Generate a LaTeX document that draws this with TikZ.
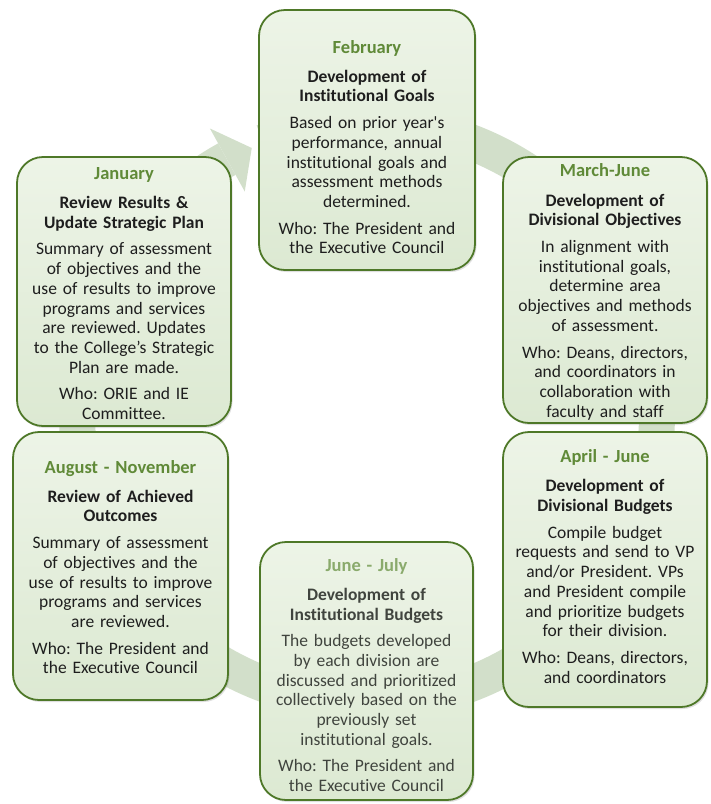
\documentclass[tikz,border=0pt]{standalone}
\usepackage{fontspec}
\setmainfont{Carlito}[Ligatures={TeX,NoCommon}]
\usetikzlibrary{shadows}
\definecolor{ringc}{RGB}{210,223,202}
\definecolor{boxtop}{RGB}{237,244,231}
\definecolor{boxbot}{RGB}{220,233,210}
\definecolor{boxline}{RGB}{78,120,40}
\definecolor{mgreen}{RGB}{96,138,56}
\definecolor{mgreenlt}{RGB}{138,170,108}
\definecolor{txt}{RGB}{30,30,30}
\definecolor{txtlt}{RGB}{64,68,62}
\newcommand{\mtitle}[1]{{\color{mgreen}\fontsize{18.5}{19.7}\selectfont\bfseries #1}\\[9.5pt]}
\newcommand{\mtitlelt}[1]{{\color{mgreenlt}\fontsize{18.5}{19.7}\selectfont\bfseries #1}\\[9.5pt]}
\tikzset{
  cyclebox/.style={draw=boxline, line width=1.8pt, rounded corners=26pt,
    top color=boxtop, bottom color=boxbot, inner sep=0pt,
    drop shadow={opacity=0.25, shadow xshift=1.5pt, shadow yshift=-2pt}},
  boxtext/.style={text width=230pt, align=center, text=txt, inner sep=0pt,
    font=\frenchspacing\fontsize{17.5}{19.7}\selectfont},
}
\begin{document}
\begin{tikzpicture}[x=1pt,y=1pt]
\useasboundingbox (0,0) rectangle (711,-804);
\coordinate (ctr) at (367,-413);
% cycle ring with arrowhead
\fill[ringc] ([shift={(ctr)}]118.9:308) arc[start angle=118.9, end angle=471, radius=308]
  -- ([shift={(ctr)}]471:272) arc[start angle=471, end angle=118.9, radius=272] -- cycle;
\fill[ringc] ([shift={(ctr)}]118.9:325) -- ([shift={(ctr)}]113.5:289) -- ([shift={(ctr)}]118.9:253) -- cycle;
% boxes
\node[cyclebox, minimum width=216pt, minimum height=260pt] (feb) at (367,-140) {};
\node[cyclebox, minimum width=214pt, minimum height=269pt] (jan) at (124,-291.5) {};
\node[cyclebox, minimum width=204pt, minimum height=266pt] (mar) at (605,-290) {};
\node[cyclebox, minimum width=204pt, minimum height=275pt] (apr) at (605,-569.5) {};
\node[cyclebox, minimum width=215pt, minimum height=268pt] (aug) at (120.5,-566) {};
\node[cyclebox, minimum width=213pt, minimum height=258pt] (jun) at (366.5,-671) {};
% texts
\node[boxtext] (febt) at ([yshift=-7pt]feb.center) {\mtitle{February}
{\bfseries Development of\\Institutional Goals}\\[7pt]
Based on prior year\textquotesingle s\\performance, annual\\institutional goals and\\assessment methods\\determined.\\[7pt]
Who: The President and\\the Executive Council};
\node[boxtext] (jant) at ([yshift=-2pt]jan.center) {\mtitle{January}
{\bfseries Review Results \&\\Update Strategic Plan}\\[7pt]
Summary of assessment\\of objectives and the\\use of results to improve\\programs and services\\are reviewed. Updates\\to the College’s Strategic\\Plan are made.\\[7pt]
Who: ORIE and IE\\Committee.};
\node[boxtext] (mart) at ([yshift=-2pt]mar.center) {\mtitle{March-June}
{\bfseries Development of\\Divisional Objectives}\\[7pt]
In alignment with\\institutional goals,\\determine area\\objectives and methods\\of assessment.\\[7pt]
Who: Deans, directors,\\and coordinators in\\collaboration with\\faculty and staff};
\node[boxtext] (aprt) at ([yshift=3pt]apr.center) {\mtitle{April - June}
{\bfseries Development of\\Divisional Budgets}\\[7pt]
Compile budget\\requests and send to VP\\and/or President. VPs\\and President compile\\and prioritize budgets\\for their division.\\[7pt]
Who: Deans, directors,\\and coordinators};
\node[boxtext] (augt) at ([yshift=-1pt]aug.center) {\mtitle{August - November}
{\bfseries Review of Achieved\\Outcomes}\\[7pt]
Summary of assessment\\of objectives and the\\use of results to improve\\programs and services\\are reviewed.\\[7pt]
Who: The President and\\the Executive Council};
\node[boxtext, text=txtlt] (junt) at ([yshift=-4pt]jun.center) {\mtitlelt{June - July}
{\bfseries Development of\\Institutional Budgets}\\[7pt]
The budgets developed\\by each division are\\discussed and prioritized\\collectively based on the\\previously set\\institutional goals.\\[7pt]
Who: The President and\\the Executive Council};
\end{tikzpicture}
\end{document}
